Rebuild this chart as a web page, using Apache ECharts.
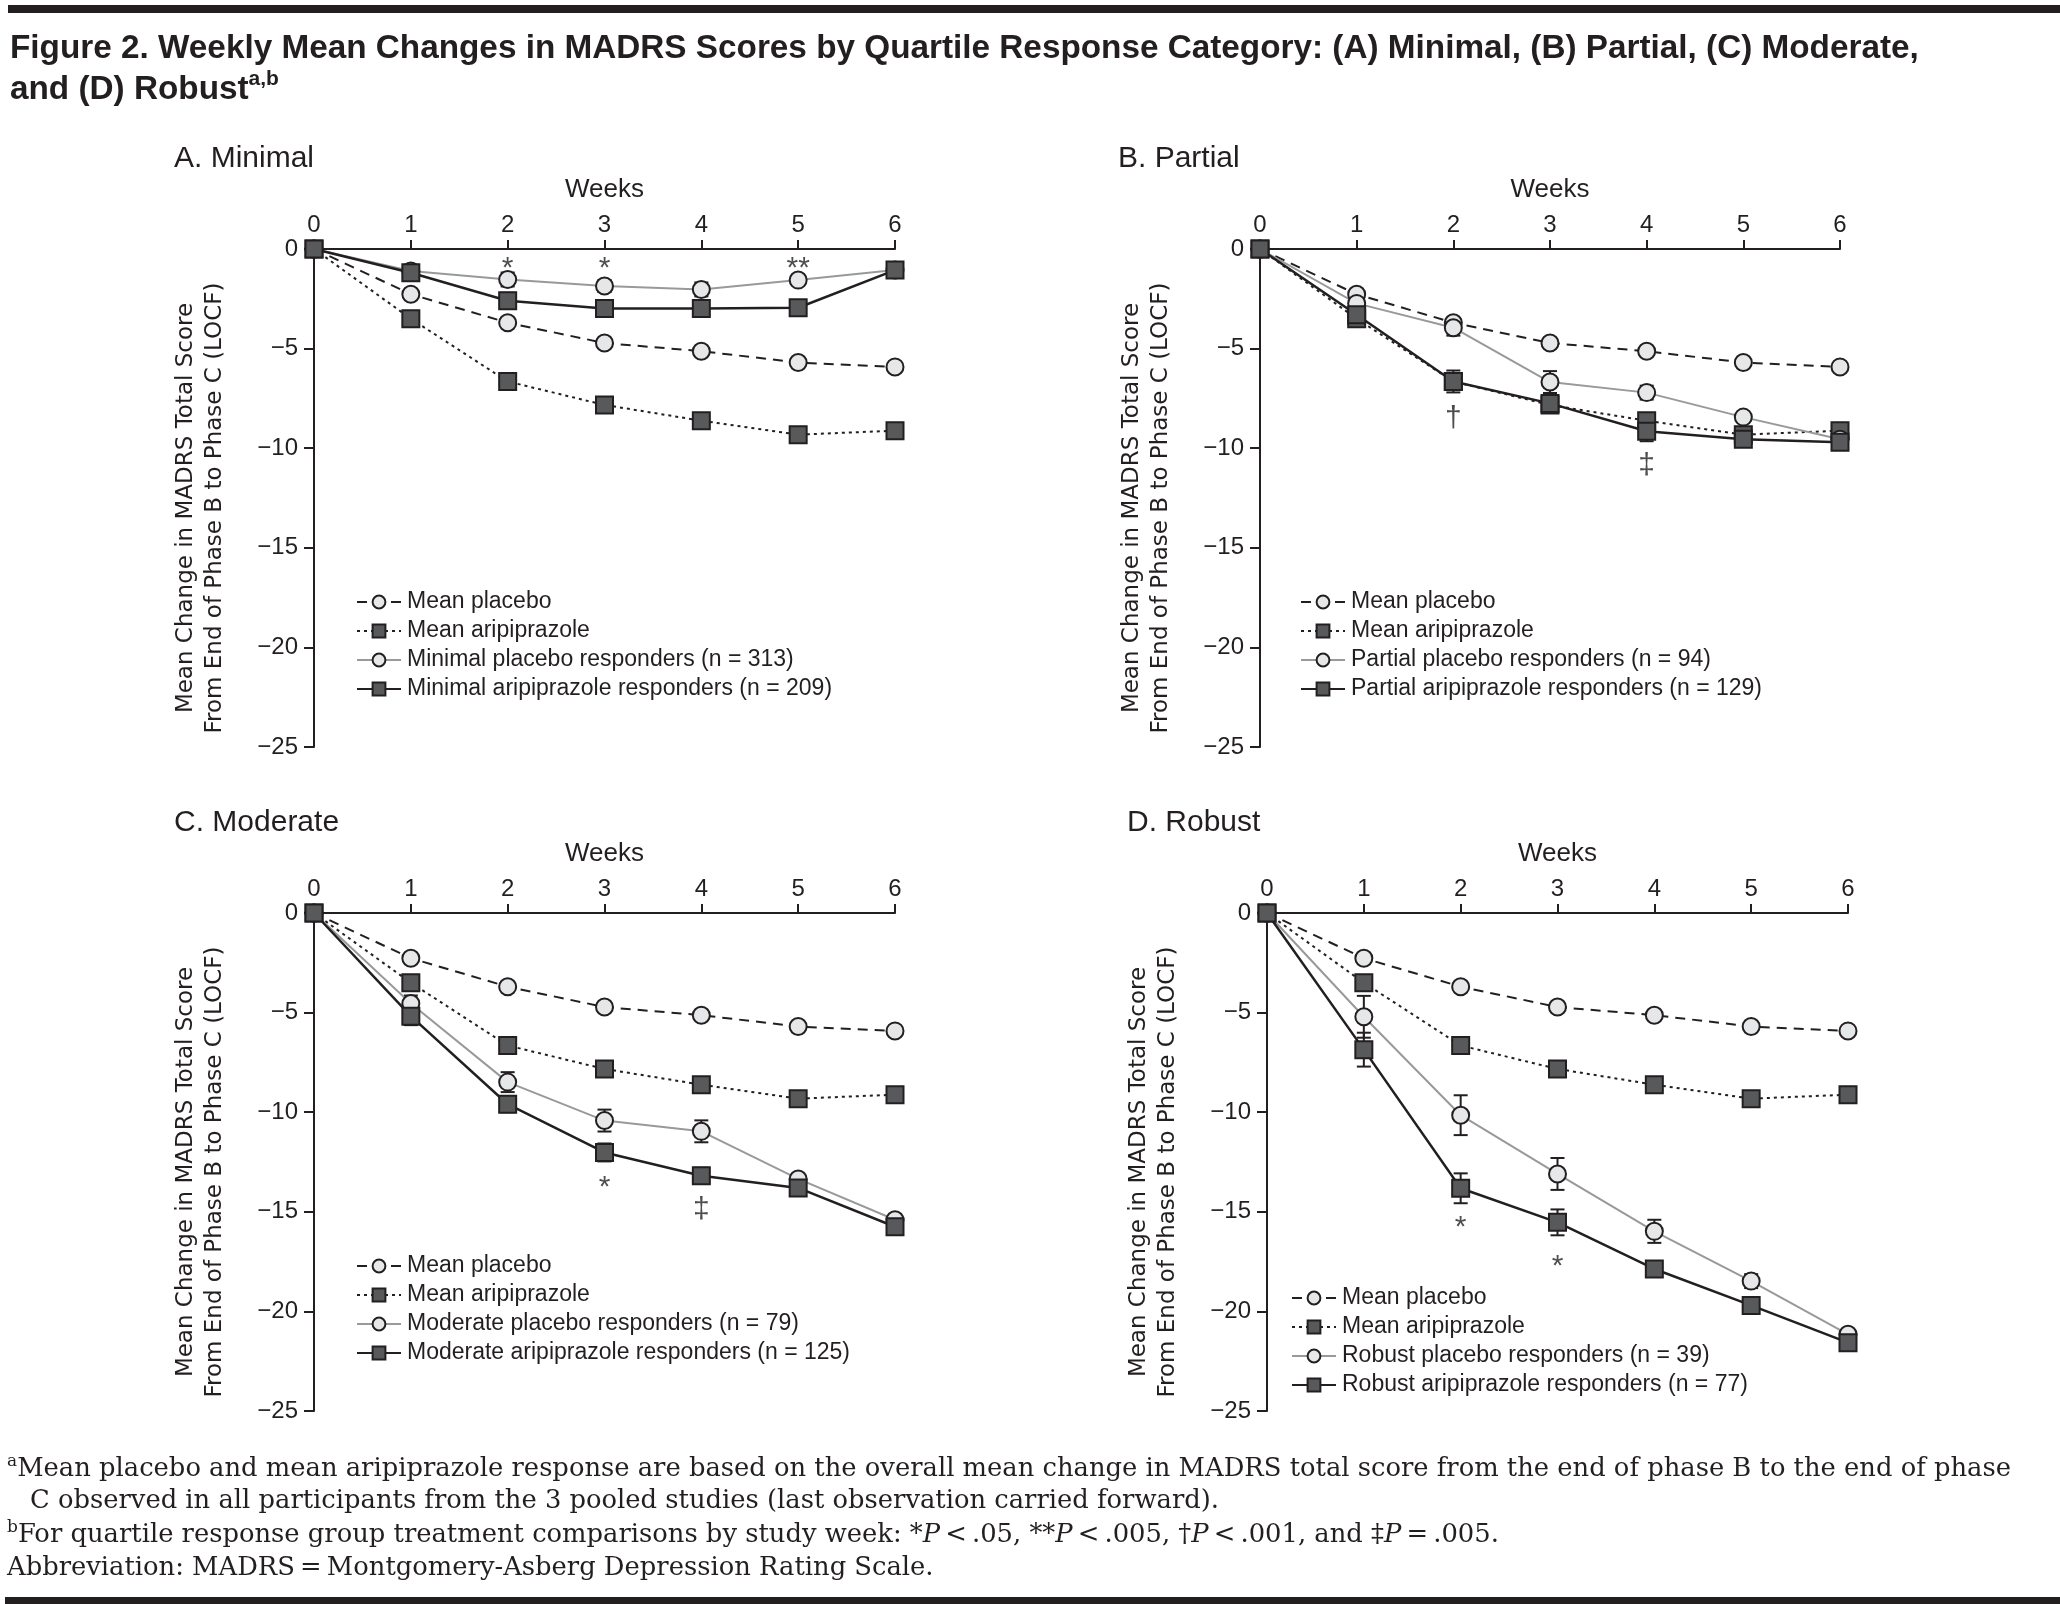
<!DOCTYPE html>
<html><head><meta charset="utf-8">
<script src="https://cdn.jsdelivr.net/npm/echarts@6/dist/echarts.min.js"></script>
<style>html,body{margin:0;padding:0;background:#fff}#c{width:2060px;height:1604px}</style>
</head><body><div id="c"></div>
<script>
// ---------------- data ----------------
const weeks = [0, 1, 2, 3, 4, 5, 6];
const yTicks = [0, -5, -10, -15, -20, -25];
const panelTitles = ['A. Minimal', 'B. Partial', 'C. Moderate', 'D. Robust'];
const meanPlaceboName = 'Mean placebo';
const meanAripName = 'Mean aripiprazole';
const meanPlacebo = [0, -2.27, -3.7, -4.72, -5.13, -5.7, -5.92];
const meanAripiprazole = [0, -3.5, -6.65, -7.83, -8.62, -9.32, -9.12];

const placeboNames = ['Minimal placebo responders (n = 313)', 'Partial placebo responders (n = 94)',
  'Moderate placebo responders (n = 79)', 'Robust placebo responders (n = 39)'];
const aripNames = ['Minimal aripiprazole responders (n = 209)', 'Partial aripiprazole responders (n = 129)',
  'Moderate aripiprazole responders (n = 125)', 'Robust aripiprazole responders (n = 77)'];

const minimalPlacebo = [0, -1.1, -1.53, -1.86, -2.03, -1.56, -1.06];
const minimalArip = [0, -1.19, -2.6, -2.99, -2.99, -2.95, -1.06];
const partialPlacebo = [0, -2.73, -3.95, -6.68, -7.21, -8.44, -9.55];
const partialArip = [0, -3.3, -6.65, -7.75, -9.15, -9.55, -9.7];
const moderatePlacebo = [0, -4.54, -8.49, -10.42, -10.96, -13.35, -15.4];
const moderateArip = [0, -5.18, -9.6, -12.02, -13.19, -13.8, -15.75];
const robustPlacebo = [0, -5.21, -10.15, -13.1, -15.98, -18.48, -21.15];
const robustArip = [0, -6.86, -13.82, -15.53, -17.87, -19.7, -21.57];

// error bar half-widths
const minimalPlaceboErr = [0, 0.25, 0.35, 0.3, 0.35, 0, 0];
const minimalAripErr = [0, 0.4, 0.4, 0.4, 0.4, 0, 0];
const partialPlaceboErr = [0, 0.2, 0.4, 0.55, 0.35, 0, 0];
const partialAripErr = [0.3, 0.3, 0.55, 0.3, 0.5, 0.2, 0.2];
const moderatePlaceboErr = [0, 0.4, 0.5, 0.55, 0.55, 0.15, 0];
const moderateAripErr = [0.25, 0.45, 0.4, 0.45, 0.4, 0.15, 0.15];
const robustPlaceboErr = [0, 1.05, 1.0, 0.8, 0.58, 0.35, 0.1];
const robustAripErr = [0.25, 0.85, 0.75, 0.65, 0.3, 0.1, 0.1];

// significance markers: [week, value, symbol]
const minimalMarks = [[2, -1.0, '*'], [3, -1.0, '*'], [5, -1.0, '**']];
const partialMarks = [[2, -8.5, '†'], [4, -10.88, '‡']];
const moderateMarks = [[3, -13.78, '*'], [4, -14.9, '‡']];
const robustMarks = [[2, -15.8, '*'], [3, -17.75, '*']];

const placeboData = [minimalPlacebo, partialPlacebo, moderatePlacebo, robustPlacebo];
const aripData = [minimalArip, partialArip, moderateArip, robustArip];
const placeboErr = [minimalPlaceboErr, partialPlaceboErr, moderatePlaceboErr, robustPlaceboErr];
const aripErr = [minimalAripErr, partialAripErr, moderateAripErr, robustAripErr];
const marks = [minimalMarks, partialMarks, moderateMarks, robustMarks];

// ---------------- layout / style ----------------
const INK = '#231f20';
const GRAY = '#98999b';
const CIRCLE_FILL = '#e6e7e8';
const SQUARE_FILL = '#58595b';
const SANS = '"Liberation Sans", Arial, sans-serif';
const grids = [
  {left: 314, top: 249, width: 581, height: 498},
  {left: 1260, top: 249, width: 580, height: 498},
  {left: 314, top: 913, width: 581, height: 498},
  {left: 1267, top: 913, width: 581, height: 498}
];
const legendPos = [
  {left: 356, top: 590}, {left: 1300, top: 590},
  {left: 356, top: 1254}, {left: 1291, top: 1286}
];
const titlePos = [{left: 174, top: 144}, {left: 1118, top: 144}, {left: 174, top: 808}, {left: 1127, top: 808}];

const pair = arr => weeks.map((w, j) => [w, arr[j]]);

function errSeries(i, vals, errs) {
  return {
    type: 'custom', xAxisIndex: i, yAxisIndex: i, silent: true, clip: true,
    data: weeks.map((w, j) => [w, vals[j], errs[j]]).filter(d => d[2] > 0),
    renderItem(params, api) {
      const x = api.value(0), y = api.value(1), e = api.value(2);
      const t = api.coord([x, y + e]), b = api.coord([x, y - e]);
      const hw = 7, st = {stroke: INK, lineWidth: 2};
      return {type: 'group', children: [
        {type: 'line', shape: {x1: t[0], y1: t[1], x2: b[0], y2: b[1]}, style: st},
        {type: 'line', shape: {x1: t[0] - hw, y1: t[1], x2: t[0] + hw, y2: t[1]}, style: st},
        {type: 'line', shape: {x1: b[0] - hw, y1: b[1], x2: b[0] + hw, y2: b[1]}, style: st}
      ]};
    }
  };
}

const xAxes = [], yAxes = [], series = [], legends = [], titles = [];
for (let i = 0; i < 4; i++) {
  xAxes.push({
    gridIndex: i, type: 'value', position: 'top', min: weeks[0], max: weeks[weeks.length - 1], interval: 1,
    name: 'Weeks', nameLocation: 'middle', nameGap: 46,
    nameTextStyle: {fontFamily: SANS, fontSize: 26, color: INK},
    axisLine: {show: true, onZero: false, lineStyle: {color: INK, width: 2}},
    axisTick: {show: true, length: 9, lineStyle: {color: INK, width: 2}},
    axisLabel: {fontFamily: SANS, fontSize: 24, color: INK, margin: 12},
    splitLine: {show: false}
  });
  yAxes.push({
    gridIndex: i, type: 'value', min: yTicks[yTicks.length - 1], max: yTicks[0], interval: 5,
    name: 'Mean Change in MADRS Total Score\nFrom End of Phase B to Phase C (LOCF)',
    nameLocation: 'middle', nameGap: 84, nameRotate: 90,
    nameTextStyle: {fontFamily: '"DejaVu Sans", Verdana, sans-serif', fontSize: 23, lineHeight: 29, color: INK, padding: [0, 20, 0, 0]},
    axisLine: {show: true, lineStyle: {color: INK, width: 2}},
    axisTick: {show: true, length: 10, lineStyle: {color: INK, width: 2}},
    axisLabel: {fontFamily: SANS, fontSize: 24, color: INK, margin: 16,
      formatter: v => (v < 0 ? '\u2212' + Math.abs(v) : String(v))},
    splitLine: {show: false}
  });
  const common = {xAxisIndex: i, yAxisIndex: i, animation: false, clip: false, showSymbol: true};
  series.push(Object.assign({}, common, {
    type: 'line', name: meanPlaceboName, data: pair(meanPlacebo),
    symbol: 'circle', symbolSize: 17,
    lineStyle: {color: INK, width: 2, type: [10, 7]},
    itemStyle: {color: CIRCLE_FILL, borderColor: INK, borderWidth: 2}
  }));
  series.push(Object.assign({}, common, {
    type: 'line', name: meanAripName, data: pair(meanAripiprazole),
    symbol: 'rect', symbolSize: 17,
    lineStyle: {color: INK, width: 2, type: [3, 4]},
    itemStyle: {color: SQUARE_FILL, borderColor: INK, borderWidth: 2}
  }));
  series.push(errSeries(i, placeboData[i], placeboErr[i]));
  series.push(errSeries(i, aripData[i], aripErr[i]));
  series.push(Object.assign({}, common, {
    type: 'line', name: placeboNames[i], data: pair(placeboData[i]),
    symbol: 'circle', symbolSize: 17,
    lineStyle: {color: GRAY, width: 2},
    itemStyle: {color: CIRCLE_FILL, borderColor: INK, borderWidth: 2}
  }));
  series.push(Object.assign({}, common, {
    type: 'line', name: aripNames[i], data: pair(aripData[i]),
    symbol: 'rect', symbolSize: 17,
    lineStyle: {color: INK, width: 2.5},
    itemStyle: {color: SQUARE_FILL, borderColor: INK, borderWidth: 2}
  }));
  series.push({
    type: 'scatter', xAxisIndex: i, yAxisIndex: i, silent: true, animation: false,
    symbolSize: 1, itemStyle: {color: 'rgba(0,0,0,0)'},
    data: marks[i].map(m => ({name: m[2], value: [m[0], m[1]]})),
    label: {show: true, position: 'inside', formatter: '{b}', fontFamily: SANS, fontSize: 30, color: INK}
  });
  legends.push(Object.assign({}, legendPos[i], {
    orient: 'vertical', itemWidth: 44, itemHeight: 16, itemGap: 5, padding: 0,
    selectedMode: false,
    data: [meanPlaceboName, meanAripName, placeboNames[i], aripNames[i]],
    textStyle: {fontFamily: SANS, fontSize: 23, lineHeight: 24, color: INK, padding: [0, 0, 0, 1]}
  }));
  titles.push(Object.assign({}, titlePos[i], {
    text: panelTitles[i], padding: 0,
    textStyle: {fontFamily: SANS, fontSize: 30, fontWeight: 'normal', color: INK}
  }));
}

const SERIF = '"DejaVu Serif", "Liberation Serif", serif';
const FN_SIZE = 25.8;
const fnRich = {
  sup: {fontFamily: SERIF, fontSize: 17, verticalAlign: 'top', lineHeight: 20, color: INK},
  i: {fontFamily: SERIF, fontSize: FN_SIZE, fontStyle: 'italic', lineHeight: 33, color: INK}
};
titles.push({
  text: 'Figure 2. Weekly Mean Changes in MADRS Scores by Quartile Response Category: (A) Minimal, (B) Partial, (C) Moderate,\nand (D) Robust{sup|a,b}',
  left: 10, top: 28, padding: 0,
  textStyle: {fontFamily: SANS, fontSize: 33.3, fontWeight: 'bold', lineHeight: 41, color: INK,
    rich: {sup: {fontFamily: SANS, fontSize: 21, fontWeight: 'bold', verticalAlign: 'top', lineHeight: 26, color: INK}}}
});
const footLines = [
  {t: '{sup|a}Mean placebo and mean aripiprazole response are based on the overall mean change in MADRS total score from the end of phase B to the end of phase', x: 7, y: 1453},
  {t: 'C observed in all participants from the 3 pooled studies (last observation carried forward).', x: 30, y: 1485},
  {t: '{sup|b}For quartile response group treatment comparisons by study week: *{i|P}\u2009<\u2009.05, **{i|P}\u2009<\u2009.005, \u2020{i|P}\u2009<\u2009.001, and \u2021{i|P}\u2009=\u2009.005.', x: 7, y: 1519},
  {t: 'Abbreviation: MADRS\u2009=\u2009Montgomery-Asberg Depression Rating Scale.', x: 7, y: 1552}
];
footLines.forEach(f => titles.push({
  text: f.t, left: f.x, top: f.y, padding: 0,
  textStyle: {fontFamily: SERIF, fontSize: FN_SIZE, fontWeight: 'normal', lineHeight: 33, color: INK, rich: fnRich}
}));

const chart = echarts.init(document.getElementById('c'), null, {renderer: 'canvas'});
chart.setOption({
  backgroundColor: '#ffffff',
  animation: false,
  title: titles,
  grid: grids,
  xAxis: xAxes,
  yAxis: yAxes,
  legend: legends,
  series: series,
  graphic: [
    {type: 'rect', shape: {x: 8, y: 5, width: 2052, height: 8}, style: {fill: INK}},
    {type: 'rect', shape: {x: 5, y: 1597, width: 2055, height: 7}, style: {fill: INK}}
  ]
});
</script></body></html>
